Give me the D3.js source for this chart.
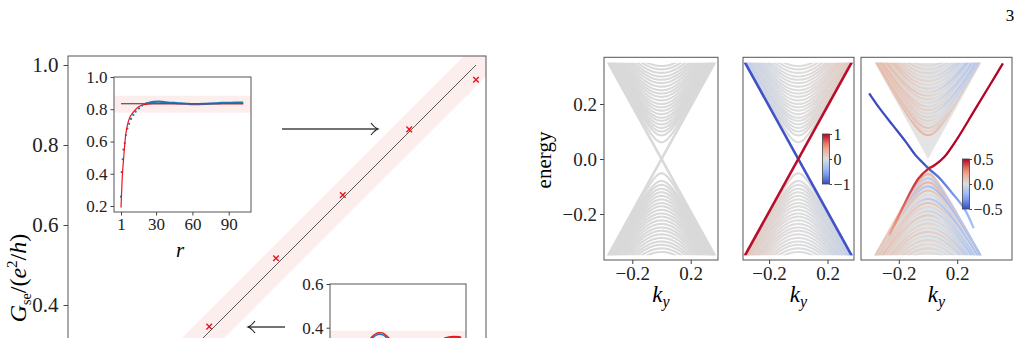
<!DOCTYPE html>
<meta charset="utf-8">
<html>
<head>
<style>
  body { margin: 0; background: #fff; }
</style>
<script src="https://cdn.jsdelivr.net/npm/d3@7/dist/d3.min.js"></script>
</head>
<body>
<div id="chart"></div>
<script>
// ---- main panel: G_se, prediction vs numerics ----
var mainX = [0.333, 0.5, 0.667, 0.833, 1.0];
var mainY = [0.346, 0.517, 0.675, 0.839, 0.963];
var diagLine = [0, 1];
var bandHalf = 0.053;
var mainTicks = [0.4, 0.6, 0.8, 1.0];

// ---- upper inset: G vs r ----
var dotR = [1, 1.6, 2.4, 3, 4.1, 5, 6.3, 7.7, 9.3, 11.2, 13.1, 15.9, 18.5, 21.5];
var dotG = [0.258, 0.41, 0.49, 0.55, 0.59, 0.64, 0.68, 0.71, 0.74, 0.765, 0.785, 0.805, 0.824, 0.835];
var lineR = [21.5, 25, 28, 32, 36, 40, 45, 50, 55, 60, 65, 70, 75, 80, 85, 90, 95, 102];
var lineG = [0.835, 0.842, 0.846, 0.847, 0.845, 0.842, 0.839, 0.836, 0.834, 0.832, 0.832, 0.833, 0.835, 0.837, 0.839, 0.84, 0.841, 0.842];
var fitR = [1, 1.9, 3.3, 4.7, 7.4, 11.5, 15.6, 21, 28, 40, 60, 80, 102];
var fitG = [0.19, 0.36, 0.506, 0.63, 0.733, 0.785, 0.816, 0.83, 0.834, 0.834, 0.834, 0.834, 0.834];
var insetRef = 0.834;
var insetBand = [0.779, 0.884];
var insetYTicks = [0.2, 0.4, 0.6, 0.8, 1.0];
var insetXTicks = [1, 30, 60, 90];

// ---- lower inset (cut by page) ----
var lowTicks = [0.4, 0.6];
var lowBand = [0.25, 0.386];
var lowRedR = [27, 30, 33, 36, 39, 42, 45, 48];
var lowRedG = [0.33, 0.355, 0.37, 0.377, 0.376, 0.366, 0.35, 0.33];
var lowBlueR = [28, 31, 34, 37, 40, 43, 46];
var lowBlueG = [0.33, 0.353, 0.366, 0.37, 0.366, 0.352, 0.333];
var lowRightR = [90, 94, 98, 102, 104];
var lowRightRedG = [0.352, 0.358, 0.36, 0.359, 0.357];
var lowRightBlueG = [0.348, 0.354, 0.357, 0.356, 0.354];

// ---- band structures ----
var vF = 0.96;
var massUp = [0.061,0.086,0.1,0.113,0.126,0.139,0.15,0.163,0.176,0.188,0.2,0.213,0.226,0.238,0.25,0.263,0.276,0.288,0.3,0.313,0.326,0.338];
var massDn = [0.052,0.08,0.094,0.108,0.121,0.134,0.147,0.16,0.172,0.185,0.198,0.21,0.223,0.236,0.249,0.261,0.274,0.287,0.3,0.312,0.325,0.338];
var w2Up = [0.25,0.3,0.15,0.2,0.1,0.25,0.15,0.1,0.2,0.1,0.15,0.1,0.2,0.1,0.15,0.1,0.1,0.15,0.1,0.1,0.1,0.1];
var w2Dn = [0.3,0.2,0.25,0.15,0.2,0.1,0.25,0.15,0.1,0.2,0.1,0.15,0.1,0.2,0.1,0.15,0.1,0.1,0.1,0.1,0.1,0.1];

var mass3Up = [0.087,0.1,0.113,0.126,0.139,0.152,0.165,0.178,0.191,0.204,0.217,0.23,0.243,0.256,0.27,0.284,0.298,0.312,0.326,0.34];
var t3UpL = [0.15,0.08,0.12,0.18,0.05,0.12,0.15,0.08,0.18,0.05,0.12,0.15,0.05,0.12,0.18,0.08,0.12,0.05,0.15,0.08];
var t3UpC = [0.15,0.03,0.1,0,0.05,0.03,0,0.05,0.03,0,0.03,0.05,0,0.03,0,0.03,0,0.03,0,0];
var t3UpR = [-0.03,0.1,-0.12,-0.05,-0.15,-0.08,-0.18,-0.05,-0.12,-0.15,-0.05,-0.12,-0.18,-0.08,-0.05,-0.15,-0.12,-0.05,-0.08,-0.12];
var mass3Dn = [0.055,0.07,0.085,0.1,0.115,0.13,0.145,0.16,0.175,0.19,0.205,0.22,0.235,0.25,0.265,0.28,0.295,0.31,0.325,0.34];
var t3DnL = [0.12,0.03,0.15,0.05,0.1,0.02,0.14,0.04,0.06,0.16,0.04,0.1,0.02,0.12,0.05,0.1,0.03,0.12,0.05,0.1];
var t3DnC = [0.15,-0.1,0.15,-0.15,0.1,0,-0.1,0.1,0.02,-0.05,0.08,-0.03,0.04,0,0.06,-0.02,0.04,0,0.04,0];
var t3DnR = [-0.18,-0.2,0.05,-0.25,-0.05,-0.12,-0.2,-0.03,-0.15,-0.08,-0.2,-0.05,-0.12,-0.15,0.03,-0.12,-0.05,-0.08,-0.12,-0.05];

var blueK = [-0.403,-0.331,-0.243,-0.153,-0.087,-0.031,0.002,0.069,0.158,0.247,0.313];
var blueE = [0.239,0.184,0.124,0.063,0.015,-0.016,-0.034,-0.064,-0.119,-0.179,-0.252];
var blueV = [-0.5,-0.5,-0.5,-0.5,-0.5,-0.48,-0.45,-0.4,-0.33,-0.25,-0.15];
var redK = [0.513,0.424,0.313,0.202,0.113,0.047,0.002,-0.064,-0.131,-0.198,-0.265];
var redE = [0.348,0.269,0.172,0.075,0.008,-0.022,-0.036,-0.07,-0.131,-0.204,-0.276];
var redV = [0.5,0.5,0.5,0.5,0.5,0.48,0.45,0.42,0.38,0.3,0.2];

var kTicks = [-0.2, 0.2];
var eTicks = [-0.2, 0.0, 0.2];

// ------------------------------------------------------------
var FONT = "'Liberation Serif', serif";
var PINK = "#fdeeee";
var svg = d3.select("#chart").append("svg").attr("width", 1023).attr("height", 338);
var defs = svg.append("defs");
var cw = d3.scaleLinear().domain([-1, -0.5, 0, 0.5, 1])
    .range(["#3b4cc0", "#8db0fe", "#dddddd", "#f49a7b", "#b40426"]).clamp(true);
var gid = 0;

function clip(id, x, y, w, h) {
  defs.append("clipPath").attr("id", id).append("rect")
    .attr("x", x).attr("y", y).attr("width", w).attr("height", h);
  return "url(#" + id + ")";
}
function styleAxis(g, size) {
  g.attr("font-size", size);
  g.select(".domain").remove();
  g.selectAll(".tick line").attr("stroke", "#444");
  g.selectAll(".tick text").attr("fill", "#222");
}
function zip(a, b) { return a.map(function (v, i) { return [v, b[i]]; }); }

// ---------------- main panel ----------------
var mx = d3.scaleLinear().domain([0, 1]).range([76, 476]);
var my = d3.scaleLinear().domain([0, 1]).range([465, 65]);
var mClip = clip("cmain", 68, 56, 418, 400);
var mline = d3.line().x(function (d) { return mx(d[0]); }).y(function (d) { return my(d[1]); });

svg.append("path")
  .datum([[-0.2, -0.2 + bandHalf], [1.3, 1.3 + bandHalf], [1.3, 1.3 - bandHalf], [-0.2, -0.2 - bandHalf]])
  .attr("clip-path", mClip).attr("fill", PINK).attr("d", mline);
svg.append("path").datum(diagLine.map(function (v) { return [v, v]; }))
  .attr("clip-path", mClip).attr("fill", "none").attr("stroke", "#333").attr("stroke-width", 0.8).attr("d", mline);
svg.selectAll(".cross").data(zip(mainX, mainY)).enter().append("path")
  .attr("class", "cross")
  .attr("transform", function (d) { return "translate(" + mx(d[0]) + "," + my(d[1]) + ")"; })
  .attr("d", d3.symbol(d3.symbolX, 22))
  .attr("fill", "none").attr("stroke", "#e8141c").attr("stroke-width", 1.4);
svg.append("rect").attr("x", 68).attr("y", 56).attr("width", 418).attr("height", 400)
  .attr("fill", "none").attr("stroke", "#555").attr("stroke-width", 1);
var ma = svg.append("g").attr("transform", "translate(68,0)")
  .call(d3.axisLeft(my).tickValues(mainTicks).tickFormat(d3.format(".1f")).tickSize(4.5).tickPadding(5));
styleAxis(ma, 21);

var ylab = svg.append("text").attr("transform", "translate(26,278) rotate(-90)")
  .attr("text-anchor", "middle").attr("font-size", 24);
ylab.append("tspan").style("font-style", "italic").text("G");
ylab.append("tspan").attr("font-size", 14).attr("dy", 5).text("se");
ylab.append("tspan").attr("dy", -5).text("/(");
ylab.append("tspan").style("font-style", "italic").text("e");
ylab.append("tspan").attr("font-size", 15).attr("dy", -9).text("2");
ylab.append("tspan").attr("dy", 9).text("/");
ylab.append("tspan").style("font-style", "italic").text("h");
ylab.append("tspan").text(")");

// arrows
function arrow(x1, x2, y) {
  var dir = x2 > x1 ? 1 : -1;
  svg.append("line").attr("x1", x1).attr("x2", x2).attr("y1", y).attr("y2", y)
    .attr("stroke", "#444").attr("stroke-width", 1.6);
  svg.append("path").attr("d", "M" + (x2 - dir * 7) + "," + (y - 6) + " Q" + (x2 - dir * 3) + "," + (y - 1) + " " + x2 + "," + y +
      " Q" + (x2 - dir * 3) + "," + (y + 1) + " " + (x2 - dir * 7) + "," + (y + 6))
    .attr("fill", "none").attr("stroke", "#222").attr("stroke-width", 1.2);
}
arrow(282, 378, 129);
arrow(285, 248, 327);

// ---------------- upper inset ----------------
var ix = d3.scaleLinear().domain([1, 90]).range([121, 228.7]);
var iy = d3.scaleLinear().domain([0.2, 1.0]).range([206, 77]);
var iClip = clip("cins", 114, 77, 137, 135);
var iline = d3.line().x(function (d) { return ix(d[0]); }).y(function (d) { return iy(d[1]); });
svg.append("rect").attr("x", 114).attr("y", 77).attr("width", 137).attr("height", 135).attr("fill", "#fff");
var gi = svg.append("g").attr("clip-path", iClip);
gi.append("rect").attr("x", 114).attr("y", iy(insetBand[1])).attr("width", 137)
  .attr("height", iy(insetBand[0]) - iy(insetBand[1])).attr("fill", PINK);
gi.append("path").datum([[1, insetRef], [102, insetRef]]).attr("d", iline)
  .attr("stroke", "#333").attr("stroke-width", 1.2).attr("fill", "none");
gi.append("path").datum(zip(lineR, lineG)).attr("d", iline.curve(d3.curveMonotoneX))
  .attr("stroke", "#1f77b4").attr("stroke-width", 2.2).attr("fill", "none");
gi.selectAll(".dot").data(zip(dotR, dotG)).enter().append("circle").attr("class", "dot")
  .attr("cx", function (d) { return ix(d[0]); }).attr("cy", function (d) { return iy(d[1]); })
  .attr("r", 1.1).attr("fill", "#1f77b4");
gi.append("path").datum(zip(fitR, fitG)).attr("d", iline.curve(d3.curveMonotoneX))
  .attr("stroke", "#f0141c").attr("stroke-width", 1.2).attr("fill", "none");
svg.append("rect").attr("x", 114).attr("y", 77).attr("width", 137).attr("height", 135)
  .attr("fill", "none").attr("stroke", "#555").attr("stroke-width", 1);
var iay = svg.append("g").attr("transform", "translate(114,0)")
  .call(d3.axisLeft(iy).tickValues(insetYTicks).tickFormat(d3.format(".1f")).tickSize(3.5).tickPadding(3));
styleAxis(iay, 17);
var iax = svg.append("g").attr("transform", "translate(0,212)")
  .call(d3.axisBottom(ix).tickValues(insetXTicks).tickFormat(d3.format("d")).tickSize(3.5).tickPadding(2));
styleAxis(iax, 17);
svg.append("text").attr("x", 180).attr("y", 257).attr("text-anchor", "middle")
  .attr("font-size", 21).style("font-style", "italic").text("r");

// ---------------- lower inset ----------------
var lx = d3.scaleLinear().domain([-4, 108]).range([330, 466]);
var ly = d3.scaleLinear().domain([0, 0.6]).range([415.1, 284]);
var lClip = clip("clow", 330, 284, 136, 100);
var lline = d3.line().x(function (d) { return lx(d[0]); }).y(function (d) { return ly(d[1]); }).curve(d3.curveMonotoneX);
svg.append("rect").attr("x", 330).attr("y", 284).attr("width", 136).attr("height", 100).attr("fill", "#fff");
var gl = svg.append("g").attr("clip-path", lClip);
gl.append("rect").attr("x", 330).attr("y", ly(lowBand[1])).attr("width", 136)
  .attr("height", ly(lowBand[0]) - ly(lowBand[1])).attr("fill", PINK);
gl.append("path").datum(zip(lowBlueR, lowBlueG)).attr("d", lline).attr("stroke", "#1f77b4").attr("stroke-width", 1.6).attr("fill", "none");
gl.append("path").datum(zip(lowRedR, lowRedG)).attr("d", lline).attr("stroke", "#e8141c").attr("stroke-width", 1.3).attr("fill", "none");
gl.append("path").datum(zip(lowRightR, lowRightBlueG)).attr("d", lline).attr("stroke", "#1f77b4").attr("stroke-width", 1.6).attr("fill", "none");
gl.append("path").datum(zip(lowRightR, lowRightRedG)).attr("d", lline).attr("stroke", "#e8141c").attr("stroke-width", 1.3).attr("fill", "none");
svg.append("rect").attr("x", 330).attr("y", 284).attr("width", 136).attr("height", 100)
  .attr("fill", "none").attr("stroke", "#555").attr("stroke-width", 1);
var lay = svg.append("g").attr("transform", "translate(330,0)")
  .call(d3.axisLeft(ly).tickValues(lowTicks).tickFormat(d3.format(".1f")).tickSize(3.5).tickPadding(3));
styleAxis(lay, 17);

// ---------------- band-structure panels ----------------
var yE = d3.scaleLinear().domain([-0.35, 0.35]).range([255.25, 62.75]);
var kGrid = d3.range(-0.37, 0.3701, 0.005);
var panels = [
  { x0: 604, x1: 718, c: 661.5 },
  { x0: 743, x1: 854, c: 798.3 },
  { x0: 861, x1: 1012, c: 928 }
];
panels.forEach(function (p, i) {
  p.x = d3.scaleLinear().domain([0, 1]).range([p.c, p.c + 146]);
  p.clip = clip("cp" + i, p.x0, 62.75, p.x1 - p.x0, 192.5);
  p.line = d3.line().x(function (d) { return p.x(d[0]); }).y(function (d) { return yE(d[1]); });
  p.g = svg.append("g").attr("clip-path", p.clip);
});
function band(m, s) { return kGrid.map(function (k) { return [k, s * Math.sqrt(m * m + vF * vF * k * k)]; }); }
function gradStroke(p, fn, norm) {
  var id = "gr" + (gid++);
  var lg = defs.append("linearGradient").attr("id", id).attr("gradientUnits", "userSpaceOnUse")
    .attr("x1", p.x(-0.37)).attr("x2", p.x(0.37)).attr("y1", 0).attr("y2", 0);
  d3.range(0, 1.0001, 0.125).forEach(function (t) {
    var k = -0.37 + 0.74 * t;
    lg.append("stop").attr("offset", t).attr("stop-color", cw(fn(k) / norm));
  });
  return "url(#" + id + ")";
}
function bandPath(p, m, s, stroke) {
  p.g.append("path").datum(band(m, s)).attr("d", p.line).attr("fill", "none")
    .attr("stroke", stroke).attr("stroke-width", 2.1);
}

// panel 1: plain grey
var P1 = panels[0];
massUp.forEach(function (m) { bandPath(P1, m, 1, "#d9d9d9"); });
massDn.forEach(function (m) { bandPath(P1, m, -1, "#d9d9d9"); });
[1, -1].forEach(function (s) {
  P1.g.append("path").datum([[-0.37, -s * vF * 0.37], [0.37, s * vF * 0.37]]).attr("d", P1.line)
    .attr("stroke", "#d9d9d9").attr("stroke-width", 2.6).attr("fill", "none");
});

// panel 2: tinted bands + edge states
var P2 = panels[1];
function tint2(w, s) {
  return function (k) { var a = Math.min(Math.abs(k) / 0.365, 1); return s * w * (k < 0 ? -1 : 1) * Math.pow(a, 1.5); };
}
massUp.forEach(function (m, i) { bandPath(P2, m, 1, gradStroke(P2, tint2(w2Up[i], 1), 1)); });
massDn.forEach(function (m, i) { bandPath(P2, m, -1, gradStroke(P2, tint2(w2Dn[i], -1), 1)); });
P2.g.append("path").datum([[-0.37, vF * 0.37], [0.37, -vF * 0.37]]).attr("d", P2.line)
  .attr("stroke", cw(-0.97)).attr("stroke-width", 2.6).attr("fill", "none");
P2.g.append("path").datum([[-0.37, -vF * 0.37], [0.37, vF * 0.37]]).attr("d", P2.line)
  .attr("stroke", cw(0.97)).attr("stroke-width", 2.6).attr("fill", "none");

// panel 3: bulk cone + coloured bands + bent edge states
var P3 = panels[2];
P3.g.append("path").datum([[-0.365, 0.35], [0.365, 0.35], [0, 0.0]]).attr("d", P3.line).attr("fill", "#e4e4e4");
P3.g.append("path").datum([[-0.365, -0.35], [0.365, -0.35], [0, -0.02]]).attr("d", P3.line).attr("fill", "#e4e4e4");
function tint3(L, C, R) {
  return function (k) { var a = Math.min(Math.abs(k) / 0.35, 1); return k < 0 ? C + (L - C) * a : C + (R - C) * a; };
}
mass3Up.forEach(function (m, i) { bandPath(P3, m, 1, gradStroke(P3, tint3(t3UpL[i], t3UpC[i], t3UpR[i]), 0.5)); });
mass3Dn.forEach(function (m, i) { bandPath(P3, m, -1, gradStroke(P3, tint3(t3DnL[i], t3DnC[i], t3DnR[i]), 0.5)); });
var P3box = clip("cp3b", P3.x0, 57, P3.x1 - P3.x0, 203);
function edgeCurve(K, E, V) {
  var id = "ge" + (gid++);
  var xa = P3.x(d3.min(K)), xb = P3.x(d3.max(K));
  var lg = defs.append("linearGradient").attr("id", id).attr("gradientUnits", "userSpaceOnUse")
    .attr("x1", xa).attr("x2", xb).attr("y1", 0).attr("y2", 0);
  var st = K.map(function (k, i) { return [(P3.x(k) - xa) / (xb - xa), V[i]]; }).sort(function (a, b) { return a[0] - b[0]; });
  st.forEach(function (s) { lg.append("stop").attr("offset", s[0]).attr("stop-color", cw(s[1] / 0.5)); });
  svg.append("path").datum(zip(K, E)).attr("clip-path", P3box)
    .attr("d", P3.line.curve(d3.curveCatmullRom))
    .attr("fill", "none").attr("stroke", "url(#" + id + ")").attr("stroke-width", 2.3);
}
edgeCurve(blueK, blueE, blueV);
edgeCurve(redK, redE, redV);

// frames, axes, labels
panels.forEach(function (p, i) {
  svg.append("rect").attr("x", p.x0).attr("y", 57.3).attr("width", p.x1 - p.x0).attr("height", 202.7)
    .attr("fill", "none").attr("stroke", "#555").attr("stroke-width", 1);
  var ax = svg.append("g").attr("transform", "translate(0,260)")
    .call(d3.axisBottom(p.x).tickValues(kTicks).tickFormat(d3.format(".1f")).tickSize(4).tickPadding(3));
  styleAxis(ax, 19);
  var kl = svg.append("text").attr("x", (p.x0 + p.x1) / 2).attr("y", 302).attr("text-anchor", "middle").attr("font-size", 23);
  kl.append("tspan").style("font-style", "italic").text("k");
  kl.append("tspan").style("font-style", "italic").attr("font-size", 16).attr("dy", 5).text("y");
});
var ay = svg.append("g").attr("transform", "translate(604,0)")
  .call(d3.axisLeft(yE).tickValues(eTicks).tickFormat(d3.format(".1f")).tickSize(4).tickPadding(3));
styleAxis(ay, 19);
svg.append("text").attr("transform", "translate(551,160) rotate(-90)").attr("text-anchor", "middle")
  .attr("font-size", 21).text("energy");

// colorbars
function colorbar(x, y0, y1, dom, ticks, fmt) {
  var id = "cb" + (gid++);
  var lg = defs.append("linearGradient").attr("id", id).attr("x1", 0).attr("x2", 0).attr("y1", 1).attr("y2", 0);
  d3.range(0, 1.0001, 0.1).forEach(function (t) { lg.append("stop").attr("offset", t).attr("stop-color", cw(2 * t - 1)); });
  svg.append("rect").attr("x", x).attr("y", y0).attr("width", 7).attr("height", y1 - y0)
    .attr("fill", "url(#" + id + ")").attr("stroke", "#444").attr("stroke-width", 0.8);
  var s = d3.scaleLinear().domain(dom).range([y1, y0]);
  var g = svg.append("g").attr("transform", "translate(" + (x + 7) + ",0)")
    .call(d3.axisRight(s).tickValues(ticks).tickFormat(fmt).tickSize(2.5).tickPadding(1.5));
  styleAxis(g, 16);
}
colorbar(822.5, 134, 184, [-1, 1], [-1, 0, 1], d3.format("d"));
colorbar(962.5, 159, 209, [-0.5, 0.5], [-0.5, 0, 0.5], d3.format(".1f"));

// page number
svg.append("text").attr("x", 1010).attr("y", 21).attr("text-anchor", "middle").attr("font-size", 17).text("3");

// all text in the serif face
svg.selectAll("g").attr("font-family", null).style("font-family", FONT);
svg.selectAll("text").style("font-family", FONT);
</script>
</body>
</html>
